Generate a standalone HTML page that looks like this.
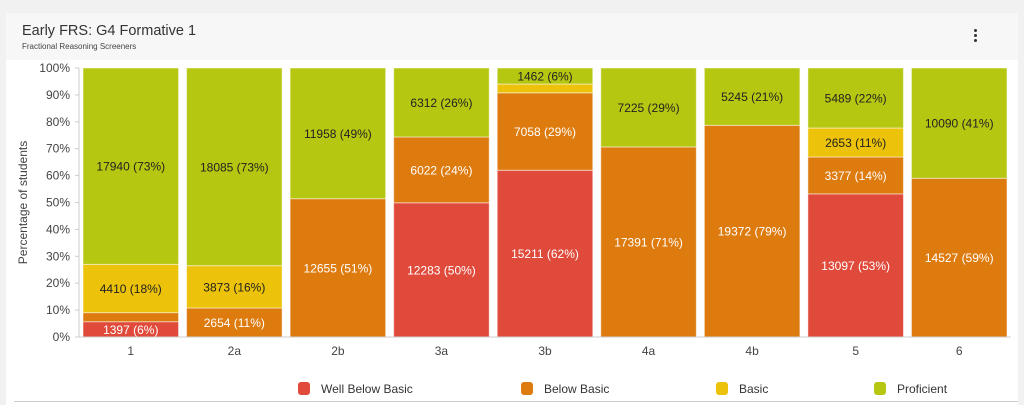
<!DOCTYPE html>
<html><head><meta charset="utf-8"><style>
body{margin:0;width:1024px;height:405px;background:#f1f1f1;font-family:"Liberation Sans",Roboto,sans-serif;overflow:hidden}
#card{position:absolute;left:6px;top:13px;width:1012px;height:392px;background:#fff}
#hdr{position:absolute;left:0;top:0;width:1012px;height:47px;background:#f7f7f7}
#title{position:absolute;left:16px;top:10px;font-size:14.5px;color:#333}
#sub{position:absolute;left:16px;top:29px;font-size:8px;color:#444}
#menu{position:absolute;left:968px;top:16px;width:4px}
#menu i{display:block;width:3px;height:3px;border-radius:50%;background:#333;margin-bottom:2px}
svg{position:absolute;left:0;top:0}
</style></head><body>
<div id="card">
<div id="hdr">
<div id="title">Early FRS: G4 Formative 1</div>
<div id="sub">Fractional Reasoning Screeners</div>
<div id="menu"><i></i><i></i><i></i></div>
</div>
</div>
<svg id="chart" width="1024" height="405"></svg>
<script>
const categories=["1","2a","2b","3a","3b","4a","4b","5","6"];
const wellBelowBasic=[1397,0,0,12283,15211,0,0,13097,0];
const belowBasic=[828,2654,12655,6022,7058,17391,19372,3377,14527];
const basic=[4410,3873,0,0,803,0,0,2653,0];
const proficient=[17940,18085,11958,6312,1462,7225,5245,5489,10090];
const yTicks=[0,10,20,30,40,50,60,70,80,90,100];
const seriesNames=["Well Below Basic","Below Basic","Basic","Proficient"];
const seriesColors=["#e04a3b","#de7b0f","#ecc20a","#b6c711"];
const labelColors=["#fff","#fff","#222","#222"];
const series=[wellBelowBasic,belowBasic,basic,proficient];

const NS="http://www.w3.org/2000/svg";
const svg=document.getElementById('chart');
const X0=79,X1=1011,Y0=337,Y1=68;
const band=(X1-X0)/categories.length;
const y=p=>Y0-(Y0-Y1)*p/100;
const xb=i=>X0+i*band;
function mk(t,a){const e=document.createElementNS(NS,t);for(const k in a)e.setAttribute(k,a[k]);svg.appendChild(e);return e;}
yTicks.forEach(t=>{
  const tk=mk('line',{x1:X0-4,x2:X0,y1:y(t),y2:y(t),stroke:'#ccc'});
  
  
  const l=mk('text',{x:X0-9,y:y(t)+4,'text-anchor':'end','font-size':12,fill:'#444'});
  l.textContent=t+'%';
  
  
});
const ax=mk('line',{x1:X0,x2:X0,y1:Y1,y2:Y0,stroke:'#ccc'});


const yt=mk('text',{x:0,y:0,transform:'translate(27,'+(Y0+Y1)/2+') rotate(-90)','text-anchor':'middle','font-size':12,fill:'#444'});
yt.textContent='Percentage of students';


categories.forEach((c,i)=>{
  const tot=series.reduce((s,a)=>s+a[i],0);
  let acc=0;
  const bx=xb(i)+4,bw=band-8;
  series.forEach((arr,si)=>{
    const v=arr[i];if(!v)return;
    const p0=acc/tot*100,p1=(acc+v)/tot*100;acc+=v;
    const r=mk('rect',{x:bx,y:y(p1),width:bw,height:y(p0)-y(p1),fill:seriesColors[si],stroke:'#fff','stroke-opacity':0.5,'stroke-width':1});
    
    
    const pct=v/tot*100;
    if(pct>=4.5){
      const t=mk('text',{x:bx+bw/2,y:(y(p0)+y(p1))/2+4.5,'text-anchor':'middle','font-size':12,fill:labelColors[si]});
      t.textContent=v+' ('+Math.round(pct)+'%)';
      
      
    }
  });
  const xl=mk('text',{x:xb(i)+band/2,y:Y0+18,'text-anchor':'middle','font-size':12,fill:'#444'});
  xl.textContent=c;
  
  
});
const base=mk('line',{x1:X0,x2:X1,y1:Y0,y2:Y0,stroke:'#ccc'});


const legX=[298,521,716,874];
seriesNames.forEach((n,i)=>{
  const r=mk('rect',{x:legX[i],y:382,width:12,height:13,rx:3,fill:seriesColors[i]});
  
  
  const t=mk('text',{x:legX[i]+23,y:393,'font-size':12,fill:'#333'});
  t.textContent=n;
  
  
});
const bl=mk('line',{x1:14,x2:1018,y1:401.5,y2:401.5,stroke:'#ccc'});


</script>
</body></html>
